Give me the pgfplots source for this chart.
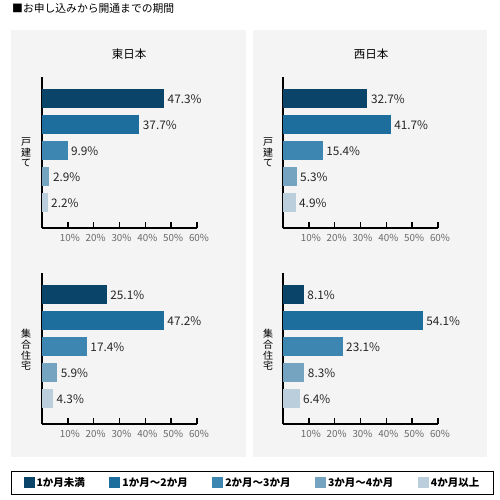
\documentclass[border=0pt]{standalone}
\usepackage{pgfplots}
\pgfplotsset{compat=1.18}
\usepackage{fontspec}
\setmainfont{Noto Sans CJK JP}
\definecolor{c1}{HTML}{0A4468}
\definecolor{c2}{HTML}{1D6D9D}
\definecolor{c3}{HTML}{3E86B2}
\definecolor{c4}{HTML}{74A4C0}
\definecolor{c5}{HTML}{BACEDB}
\definecolor{bg}{HTML}{F4F4F4}
\definecolor{tk}{HTML}{6A6A6A}
\pgfplotsset{
  panel/.style={
    xbar, scale only axis, width=155pt, height=151.5pt,
    xmin=0, xmax=60, ymin=-0.97, ymax=4.86,
    axis x line*=bottom, axis y line*=left,
    axis line style={line width=1.6pt, -},
    xtick={10,20,...,60}, ytick=\empty,
    tick align=inside, major tick length=6pt,
    tick style={line width=1.6pt, black},
    /pgf/number format/assume math mode=true,
    xticklabel={\pgfmathprintnumber{\tick}\%},
    xticklabel style={font=\fontsize{9.8}{11}\selectfont, text=tk, xshift=2pt, yshift=-3pt},
    nodes near coords={\pgfmathprintnumber[fixed,precision=1,fixed zerofill]{\pgfplotspointmeta}\%},
    nodes near coords align=horizontal,
    every node near coord/.append style={font=\fontsize{11.8}{13}\selectfont, text=black!85, xshift=0pt},
    clip=false,
  },
  b/.style={fill=#1, draw=none, bar width=19pt, bar shift=0pt},
}
\tikzset{vc/.style={font=\fontsize{10}{10}\selectfont, inner sep=0pt, anchor=center}}
\begin{document}
\begin{tikzpicture}
\useasboundingbox (0pt,0pt) rectangle (500pt,-500pt);
\fill[white] (0pt,0pt) rectangle (500pt,-500pt);
\fill[bg] (11pt,-30pt) rectangle (246pt,-457pt);
\fill[bg] (253pt,-30pt) rectangle (487pt,-457pt);
\node[anchor=west, font=\fontsize{10.8}{12}\selectfont, inner sep=0pt] at (12pt,-8pt) {■お申し込みから開通までの期間};
\node[font=\fontsize{11.5}{12}\selectfont] at (129pt,-54pt) {東日本};
\node[font=\fontsize{11.5}{12}\selectfont] at (371pt,-54pt) {西日本};
\foreach \xx in {26pt,268pt}{
  \node[vc] at (\xx,-142pt) {戸};
  \node[vc] at (\xx,-152.5pt) {建};
  \node[vc] at (\xx,-163pt) {て};
  \node[vc] at (\xx,-334pt) {集};
  \node[vc] at (\xx,-344.7pt) {合};
  \node[vc] at (\xx,-355.3pt) {住};
  \node[vc] at (\xx,-366pt) {宅};
}

\begin{axis}[panel, at={(42pt,-228pt)}, anchor=south west]
\addplot[b=c1] coordinates {(47.3,4)};
\addplot[b=c2] coordinates {(37.7,3)};
\addplot[b=c3] coordinates {(9.9,2)};
\addplot[b=c4] coordinates {(2.9,1)};
\addplot[b=c5] coordinates {(2.2,0)};
\end{axis}

\begin{axis}[panel, at={(283pt,-228pt)}, anchor=south west]
\addplot[b=c1] coordinates {(32.7,4)};
\addplot[b=c2] coordinates {(41.7,3)};
\addplot[b=c3] coordinates {(15.4,2)};
\addplot[b=c4] coordinates {(5.3,1)};
\addplot[b=c5] coordinates {(4.9,0)};
\end{axis}

\begin{axis}[panel, at={(42pt,-424pt)}, anchor=south west,
  legend columns=5,
  legend image code/.code={\fill[#1] (0pt,-5.5pt) rectangle (11pt,5.5pt);},
  legend style={at={(-0.2,-0.311)}, anchor=north west, draw=black, line width=1.2pt,
    fill=white, font=\bfseries\fontsize{10.5}{12}\selectfont, inner xsep=12pt, inner ysep=4pt,
    /tikz/every even column/.append style={column sep=22.5pt}},
  legend cell align=left]
\addplot[b=c1] coordinates {(25.1,4)};
\addplot[b=c2] coordinates {(47.2,3)};
\addplot[b=c3] coordinates {(17.4,2)};
\addplot[b=c4] coordinates {(5.9,1)};
\addplot[b=c5] coordinates {(4.3,0)};
\legend{1か月未満, 1か月～2か月, 2か月～3か月, 3か月～4か月, 4か月以上}
\end{axis}

\begin{axis}[panel, at={(283pt,-424pt)}, anchor=south west]
\addplot[b=c1] coordinates {(8.1,4)};
\addplot[b=c2] coordinates {(54.1,3)};
\addplot[b=c3] coordinates {(23.1,2)};
\addplot[b=c4] coordinates {(8.3,1)};
\addplot[b=c5] coordinates {(6.4,0)};
\end{axis}
\end{tikzpicture}
\end{document}
